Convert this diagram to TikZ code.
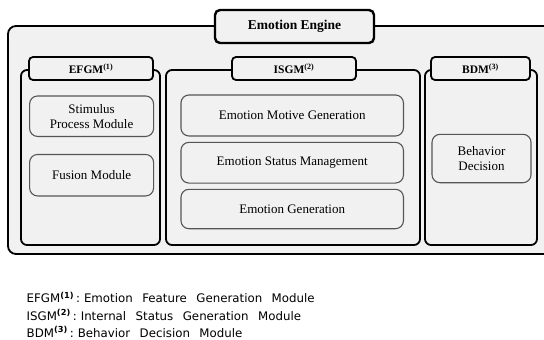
\documentclass[tikz,border=0pt]{standalone}
\usepackage{fontspec}
\setmainfont{Liberation Serif}
\newfontfamily\legendfont{DejaVu Sans}
\definecolor{boxfill}{HTML}{F1F1F1}
\definecolor{innerline}{HTML}{555555}
\newcommand{\legsup}[1]{\textsuperscript{\bfseries #1}}
\begin{document}
\begin{tikzpicture}[x=1pt,y=-1pt,
  outerbox/.style={draw=black, line width=1.8pt, fill=boxfill, rounded corners=8pt, inner sep=0pt},
  titlebox/.style={draw=black, line width=2.4pt, fill=boxfill, rounded corners=5pt, inner sep=0pt, font=\fontsize{13.5}{15}\selectfont\bfseries},
  panel/.style={draw=black, line width=1.8pt, fill=boxfill, rounded corners=6pt, inner sep=0pt},
  tabbox/.style={draw=black, line width=1.8pt, fill=boxfill, rounded corners=4pt, inner sep=0pt, font=\fontsize{11.5}{12}\selectfont\bfseries},
  modbox/.style={draw=innerline, line width=1.1pt, fill=boxfill, rounded corners=8pt, inner sep=0pt, align=center, font=\fontsize{13}{15}\selectfont},
  legend/.style={anchor=west, inner sep=0pt, font=\legendfont\fontsize{11.8}{14}\selectfont}
]
\useasboundingbox (0,0) rectangle (544,340);
\fill[white] (0,0) rectangle (544,340);

% outer engine box (extends past right edge)
\node[outerbox, minimum width=544pt, minimum height=228pt] (engine) at (280,140) {};
\node[titlebox, minimum width=159pt, minimum height=33pt] (title) at (294.5,26.5) {Emotion Engine};

% panels
\node[panel, minimum width=139pt, minimum height=175pt] (efgm) at (90.5,157.5) {};
\node[panel, minimum width=254pt, minimum height=175pt] (isgm) at (293,157.5) {};
\node[panel, minimum width=112pt, minimum height=175pt] (bdm) at (481,157.5) {};

% tabs
\node[tabbox, minimum width=124pt, minimum height=23pt] (efgmtab) at (91,68.5) {EFGM\textsuperscript{(1)}};
\node[tabbox, minimum width=124pt, minimum height=23pt] (isgmtab) at (294,68.5) {ISGM\textsuperscript{(2)}};
\node[tabbox, minimum width=99pt, minimum height=23pt] (bdmtab) at (480.5,68.5) {BDM\textsuperscript{(3)}};

% modules
\node[modbox, minimum width=124pt, minimum height=40.5pt] (stim) at (91.6,116.2) {Stimulus\\Process Module};
\node[modbox, minimum width=124pt, minimum height=41.5pt] (fusion) at (91.6,175.2) {Fusion Module};
\node[modbox, minimum width=222.5pt, minimum height=41pt] (motive) at (292.2,115.5) {Emotion Motive Generation};
\node[modbox, minimum width=222.5pt, minimum height=40.7pt] (status) at (292.2,162.7) {Emotion Status Management};
\node[modbox, minimum width=222.5pt, minimum height=39.4pt] (gen) at (292.2,209) {Emotion Generation};
\node[modbox, minimum width=99pt, minimum height=48.4pt] (behav) at (481.5,158.5) {Behavior\\Decision};

% legend
\node[legend] (leg1) at (26.5,297.5) {\spaceskip=9.5pt EFGM\legsup{(1)}\hspace{2pt}:\hspace{4pt}Emotion Feature Generation Module};
\node[legend] (leg2) at (26.5,315) {\spaceskip=9.5pt ISGM\legsup{(2)}\hspace{2pt}:\hspace{4pt}Internal Status Generation Module};
\node[legend] (leg3) at (26.5,332) {\spaceskip=9.5pt BDM\legsup{(3)}\hspace{2pt}:\hspace{4pt}Behavior Decision Module};
\end{tikzpicture}
\end{document}
